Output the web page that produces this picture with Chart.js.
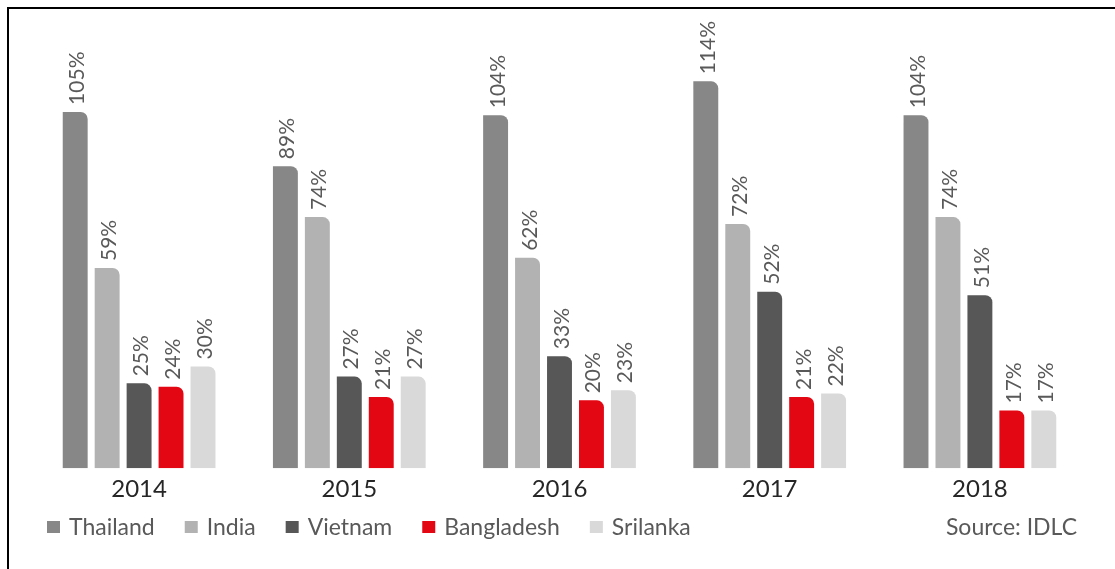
<!DOCTYPE html>
<html>
<head>
<meta charset="utf-8">
<title>Bar chart</title>
<script src="https://cdn.jsdelivr.net/npm/chart.js@4.4.1/dist/chart.umd.min.js"></script>
<style>
  html, body { margin: 0; padding: 0; background: #fff; }
  #wrap { position: relative; width: 1115px; height: 569px; }
</style>
</head>
<body>
<div id="wrap"><canvas id="barChart"></canvas></div>
<script>
const years = ['2014', '2015', '2016', '2017', '2018'];
const thailand = [105, 89, 104, 114, 104];
const india = [59, 74, 62, 72, 74];
const vietnam = [25, 27, 33, 52, 51];
const bangladesh = [24, 21, 20, 21, 17];
const srilanka = [30, 27, 23, 22, 17];

const FONT = 'Lato, "Open Sans", sans-serif';

function series(label, data, color) {
  return {
    label: label,
    data: data,
    backgroundColor: color,
    borderWidth: 0,
    borderRadius: { topLeft: 0, topRight: 7, bottomLeft: 0, bottomRight: 0 },
    borderSkipped: 'start'
  };
}

// value labels, rotated, sitting on top of each bar
const barLabels = {
  id: 'barLabels',
  afterDatasetsDraw(chart) {
    const ctx = chart.ctx;
    ctx.save();
    ctx.font = '21px ' + FONT;
    ctx.fillStyle = '#595959';
    ctx.textAlign = 'left';
    ctx.textBaseline = 'alphabetic';
    chart.data.datasets.forEach(function (ds, i) {
      chart.getDatasetMeta(i).data.forEach(function (bar, j) {
        ctx.save();
        ctx.translate(bar.x + 9, bar.y - 7);
        ctx.rotate(-Math.PI / 2);
        ctx.fillText(ds.data[j] + '%', 0, 0);
        ctx.restore();
      });
    });
    ctx.restore();
  }
};

// legend row along the bottom, source note on the right, frame lines
const footer = {
  id: 'footer',
  afterDraw(chart) {
    const ctx = chart.ctx;
    ctx.save();
    ctx.fillStyle = '#000';
    ctx.fillRect(7, 7, chart.width, 2);
    ctx.fillRect(7, 7, 2, chart.height);

    ctx.font = '23px ' + FONT;
    ctx.textAlign = 'left';
    ctx.textBaseline = 'alphabetic';
    var x = 47;
    var baseline = 535;
    chart.data.datasets.forEach(function (ds) {
      ctx.fillStyle = ds.backgroundColor;
      ctx.fillRect(x, 521, 13, 12);
      x += 22;
      ctx.fillStyle = '#595959';
      ctx.fillText(ds.label, x, baseline);
      x += ctx.measureText(ds.label).width + 30;
    });

    ctx.textAlign = 'right';
    ctx.fillStyle = '#595959';
    ctx.fillText('Source: IDLC', 1077, baseline);
    ctx.restore();
  }
};

var barCanvas = document.getElementById('barChart').getContext('2d');
var barChart = new Chart(barCanvas, {
  type: 'bar',
  data: {
    labels: years,
    datasets: [
      series('Thailand', thailand, '#878787'),
      series('India', india, '#b2b2b2'),
      series('Vietnam', vietnam, '#575757'),
      series('Bangladesh', bangladesh, '#e30613'),
      series('Srilanka', srilanka, '#d9d9d9')
    ]
  },
  options: {
    responsive: true,
    maintainAspectRatio: false,
    animation: false,
    datasets: {
      bar: { categoryPercentage: 0.76, barPercentage: 0.78 }
    },
    layout: {
      padding: { top: 61, left: 34, right: 30, bottom: 58 }
    },
    scales: {
      x: {
        grid: { display: false, drawTicks: false },
        border: { display: false },
        ticks: {
          color: '#262626',
          font: { family: FONT, size: 24 },
          padding: 7
        }
      },
      y: {
        display: false,
        min: 0,
        max: 120
      }
    },
    plugins: {
      legend: { display: false },
      tooltip: { enabled: false }
    }
  },
  plugins: [barLabels, footer]
});
</script>
</body>
</html>
